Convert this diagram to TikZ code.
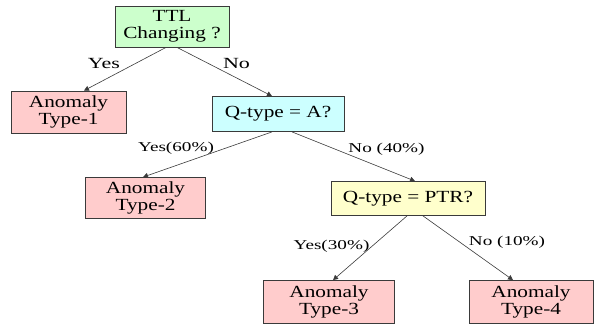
\documentclass[tikz,border=0pt]{standalone}
\usepackage{fontspec}
\setmainfont[FakeStretch=1.42]{Liberation Serif}
\newfontfamily\boxfont[FakeStretch=1.25]{Liberation Serif}
\usetikzlibrary{arrows.meta}
\definecolor{gfill}{HTML}{CCFFCC}
\definecolor{pfill}{HTML}{FFCCCC}
\definecolor{bfill}{HTML}{CCFFFF}
\definecolor{yfill}{HTML}{FFFFCC}
\definecolor{edgec}{HTML}{3A3A3A}
\tikzset{
  box/.style={draw=edgec, line width=0.8pt, align=center, inner sep=0pt,
    font=\boxfont\fontsize{17}{16.5}\selectfont},
  edge/.style={draw=edgec, line width=0.6pt, -{Triangle[length=5pt,width=5pt]}},
  lbl/.style={inner sep=0pt, font=\fontsize{15.5}{16}\selectfont},
  plbl/.style={inner sep=0pt, font=\fontsize{13.5}{14}\selectfont},
}
\begin{document}
\begin{tikzpicture}[x=1pt,y=-1pt]
\useasboundingbox (0,0) rectangle (594,327);
\node[box, fill=gfill, minimum width=114pt, minimum height=41pt] (ttl) at (172,26.5) {TTL\\Changing ?};
\node[box, fill=pfill, minimum width=115pt, minimum height=42pt] (t1) at (68.5,112) {Anomaly\\Type-1};
\node[box, fill=bfill, minimum width=132pt, minimum height=35pt] (qa) at (278,114) {Q-type = A?};
\node[box, fill=pfill, minimum width=120pt, minimum height=41pt] (t2) at (145.5,198) {Anomaly\\Type-2};
\node[box, fill=yfill, minimum width=154pt, minimum height=34pt] (ptr) at (408,198.5) {Q-type = PTR?};
\node[box, fill=pfill, minimum width=131pt, minimum height=43pt] (t3) at (329,302) {Anomaly\\Type-3};
\node[box, fill=pfill, minimum width=124pt, minimum height=43pt] (t4) at (531,302) {Anomaly\\Type-4};

\draw[edge] ([xshift=-6pt]ttl.south) -- ([xshift=15.5pt]t1.north);
\draw[edge] ([xshift=5pt]ttl.south) -- ([xshift=-6pt]qa.north);
\draw[edge] ([xshift=-6pt]qa.south) -- ([xshift=-2.5pt]t2.north);
\draw[edge] ([xshift=14pt]qa.south) -- ([xshift=7pt]ptr.north);
\draw[edge] ([xshift=-1pt]ptr.south) -- ([xshift=4pt]t3.north);
\draw[edge] ([xshift=15pt]ptr.south) -- ([xshift=-18pt]t4.north);

\node[lbl] (l1) at (104,63) {Yes};
\node[lbl] (l2) at (236.5,63) {No};
\node[plbl] (l3) at (176,148) {Yes(60\%)};
\node[plbl] (l4) at (386.5,149) {No (40\%)};
\node[plbl] (l5) at (331.5,246) {Yes(30\%)};
\node[plbl] (l6) at (507,242.5) {No (10\%)};
\end{tikzpicture}
\end{document}
